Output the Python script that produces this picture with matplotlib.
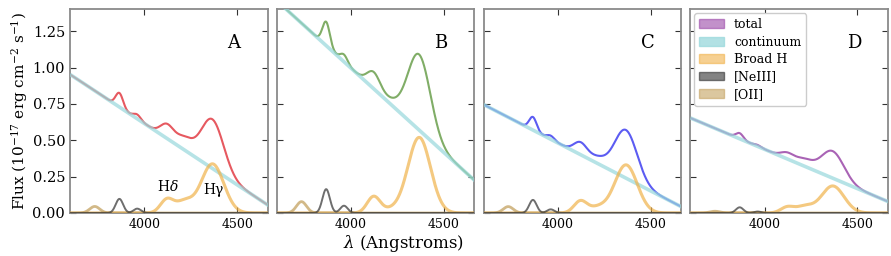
import numpy as np
import matplotlib.pyplot as plt
from matplotlib.patches import Patch

plt.rcParams['font.family'] = ['DejaVu Serif']
plt.rcParams['mathtext.fontset'] = 'dejavuserif'

# values, one entry per panel
panel_names = ["A", "B", "C", "D"]
total_colors = ["#e23c44", "#6a9f4c", "#3f3ff0", "#9a48a8"]

cont_at_3600 = [0.953, 1.46, 0.746, 0.654]
cont_at_4670 = [0.051, 0.219, 0.040, 0.076]

# line centres (Angstrom) and widths
oii_center, oii_sigma = 3733, 27
neiii_centers = [3866, 3962]
neiii_sigma = 20
hd_center, hd_sigma = 4122, 35
hmid_center, hmid_sigma = 4215, 45
hg_center, hg_sigma = 4367, 61

oii_amp = [0.045, 0.078, 0.044, 0.012]
neiii_amp = [0.097, 0.164, 0.090, 0.039]
neiii2_amp = [0.030, 0.050, 0.025, 0.010]
hd_amp = [0.092, 0.113, 0.082, 0.040]
hmid_amp = [0.077, 0.022, 0.037, 0.045]
hg_amp = [0.338, 0.520, 0.331, 0.186]

xticks = [4000, 4500]
yticks = [0.0, 0.25, 0.5, 0.75, 1.0, 1.25]

cont_color = "#98d8dc"
broad_color = "#f0b24a"
neiii_color = "#303030"
oii_color = "#c4a260"

lam = np.linspace(3600, 4670, 800)


def gauss(x, amp, mu, sig):
    return amp * np.exp(-0.5 * ((x - mu) / sig) ** 2)


fig, axes = plt.subplots(1, 4, figsize=(8.91, 2.56), dpi=100, sharey=True)
fig.subplots_adjust(left=0.0786, right=0.9966, bottom=0.168, top=0.963, wspace=0.046)

for i, ax in enumerate(axes):
    cont = np.interp(lam, [3600, 4670], [cont_at_3600[i], cont_at_4670[i]])
    oii = gauss(lam, oii_amp[i], oii_center, oii_sigma)
    neiii = gauss(lam, neiii_amp[i], neiii_centers[0], neiii_sigma) + \
        gauss(lam, neiii2_amp[i], neiii_centers[1], neiii_sigma)
    broad = gauss(lam, hd_amp[i], hd_center, hd_sigma) + \
        gauss(lam, hmid_amp[i], hmid_center, hmid_sigma) + \
        gauss(lam, hg_amp[i], hg_center, hg_sigma)
    total = cont + neiii + broad

    # total underneath, continuum on top: where they overlap the colours mix
    ax.plot(lam, total, color=total_colors[i], alpha=0.85, lw=1.5,
            solid_capstyle='butt', zorder=2)
    ax.plot(lam, cont, color=cont_color, alpha=0.7, lw=2.6,
            solid_capstyle='butt', zorder=3)
    ax.plot(lam, broad, color=broad_color, alpha=0.7, lw=2.2,
            solid_capstyle='butt', zorder=4)
    ax.plot(lam, oii, color=oii_color, alpha=0.75, lw=2.0,
            solid_capstyle='butt', zorder=4)
    ax.plot(lam, neiii, color=neiii_color, alpha=0.7, lw=1.4,
            solid_capstyle='butt', zorder=5)

    ax.set_xlim(3600, 4665)
    ax.set_ylim(0, 1.4)
    ax.set_xticks(xticks)
    ax.set_yticks(yticks)
    ax.yaxis.set_major_formatter(plt.FormatStrFormatter('%.2f'))
    ax.tick_params(direction='in', top=True, right=True, length=4, width=0.8,
                   color='#333333')
    ax.tick_params(axis='x', labelsize=9)
    ax.tick_params(axis='y', labelsize=10.5)
    for s in ax.spines.values():
        s.set_color('#8a8a8a')
        s.set_linewidth(1.3)
    ax.text(0.83, 0.835, panel_names[i], transform=ax.transAxes,
            fontsize=13, ha='center', va='center')

axes[0].text(4129, 0.18, r"H$\delta$", fontsize=10, ha='center', va='center')
axes[0].text(4371, 0.159, "H\u03b3", fontsize=10, ha='center', va='center')
axes[0].set_ylabel(r"Flux (10$^{-17}$ erg cm$^{-2}$ s$^{-1}$)", fontsize=11, labelpad=2)

handles = [Patch(facecolor=total_colors[3], alpha=0.6, edgecolor=total_colors[3]),
           Patch(facecolor=cont_color, alpha=0.75, edgecolor=cont_color),
           Patch(facecolor=broad_color, alpha=0.6, edgecolor=broad_color),
           Patch(facecolor=neiii_color, alpha=0.6, edgecolor=neiii_color),
           Patch(facecolor=oii_color, alpha=0.6, edgecolor=oii_color)]
labels = ["total", "continuum", "Broad H", "[NeIII]", "[OII]"]
axes[3].legend(handles, labels, loc='upper left', fontsize=9, handlelength=2.0,
               borderaxespad=0.3, labelspacing=0.35, framealpha=1.0)

fig.text(0.453, 0.05, r"$\lambda$ (Angstroms)", fontsize=12, ha='center', va='center')

fig.savefig("out.png", dpi=100)
